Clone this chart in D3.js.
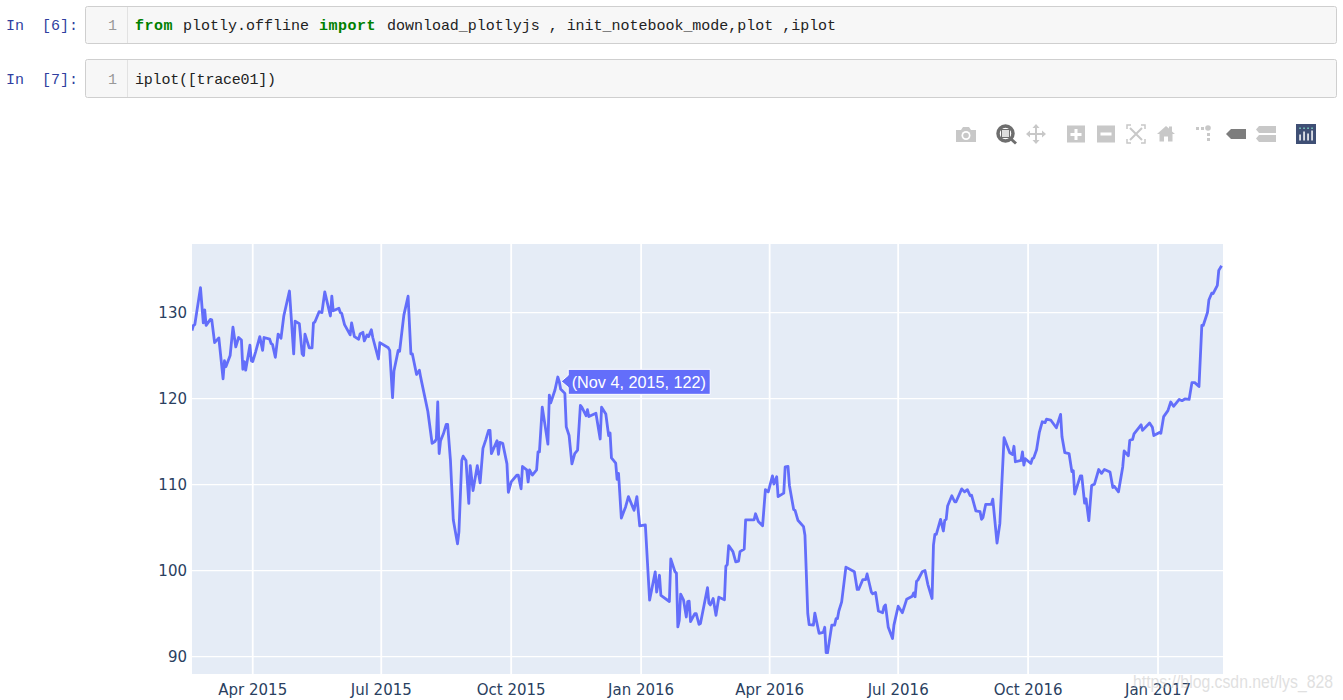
<!DOCTYPE html>
<html>
<head>
<meta charset="utf-8">
<style>
body { margin: 0; background: #fff; overflow: hidden; }
svg { display: block; }
.tick text { font-family: "DejaVu Sans", sans-serif; font-size: 15px; fill: #2a3f5f; }
.code { font-family: "Liberation Mono", monospace; font-size: 15px; white-space: pre; }
</style>
</head>
<body>
<svg></svg>
<script src="https://cdnjs.cloudflare.com/ajax/libs/d3/7.8.5/d3.min.js"></script>
<script>
// calendar days after startDate, one entry per visible vertex
var startDate = "2015-02-17";
var endDate = "2017-02-16";
var days = [
  0, 1, 2, 6, 8, 9, 10, 13, 14, 16,
  19, 22, 23, 24, 27, 29, 31, 33, 35, 36,
  37, 38, 41, 42, 43, 45, 48, 50, 51, 55,
  56, 57, 59, 61, 63, 65, 69, 72, 73, 76,
  78, 79, 80, 83, 85, 86, 87, 90, 92, 94,
  98, 99, 100, 104, 105, 106, 108, 112, 113, 115,
  118, 119, 121, 122, 124, 125, 127, 128, 132, 133,
  139, 140, 142, 143, 146, 147, 150, 153, 155, 156,
  159, 161, 162, 167, 170, 172, 173, 174, 175, 176,
  178, 180, 181, 183, 185, 188, 189, 191, 192, 194,
  196, 197, 199, 202, 204, 206, 208, 210, 211, 212,
  216, 217, 218, 220, 223, 224, 225, 226, 230, 231,
  233, 234, 237, 238, 239, 241, 244, 245, 246, 248,
  252, 253, 254, 257, 259, 260, 261, 264, 265, 267,
  269, 271, 273, 275, 276, 279, 280, 281, 286, 289,
  290, 293, 295, 296, 297, 300, 301, 302, 304, 307,
  309, 313, 315, 317, 321, 324, 328, 329, 331, 332,
  338, 339, 342, 343, 344, 345, 346, 348, 350, 351,
  352, 353, 356, 357, 359, 360, 365, 366, 367, 369,
  371, 373, 377, 378, 379, 380, 383, 385, 387, 388,
  391, 392, 398, 399, 401, 404, 406, 408, 411, 412,
  414, 415, 419, 420, 422, 423, 426, 427, 429, 433,
  434, 436, 437, 440, 441, 444, 447, 448, 449, 450,
  453, 455, 456, 457, 458, 460, 463, 469, 471, 472,
  475, 477, 478, 481, 482, 484, 486, 489, 490, 491,
  493, 496, 497, 500, 503, 506, 510, 511, 512, 513,
  514, 517, 519, 521, 524, 525, 526, 527, 530, 532,
  533, 534, 535, 538, 540, 541, 545, 547, 549, 551,
  552, 555, 558, 559, 560, 562, 566, 567, 570, 572,
  575, 579, 581, 582, 583, 587, 588, 589, 590, 594,
  595, 596, 598, 600, 602, 604, 605, 608, 612, 615,
  616, 618, 621, 623, 624, 625, 629, 630, 632, 633,
  635, 637, 639, 642, 644, 646, 650, 652, 653, 656,
  659, 660, 663, 664, 666, 667, 672, 673, 678, 680,
  681, 685, 686, 688, 691, 693, 695, 699, 701, 703,
  706, 708, 710, 713, 715, 716, 719, 720, 722, 723,
  726, 727, 729
];
var values = [
  127.9, 128.5, 128.6, 132.9, 128.8, 130.3, 128.5, 129.2, 129.15, 126.5,
  127.05, 122.3, 124.4, 123.7, 125, 128.3, 126, 127.1, 126.8, 123.4,
  124.3, 123.3, 126.2, 124.4, 124.3, 125.4, 127.2, 125.6, 127.1, 126.9,
  126.4, 126.3, 124.8, 127.5, 127, 129.6, 132.5, 125.2, 129, 128.7,
  125.2, 125, 127.5, 125.9, 125.9, 128.8, 128.9, 130.1, 130, 132.4,
  129.6, 131.9, 130.2, 130.5, 130, 129.9, 128.6, 127.4, 128.8, 127.2,
  126.9, 127.5, 127.7, 126.7, 127.4, 127.2, 128, 127.1, 124.6, 126.5,
  125.9, 125.6, 120.1, 123.2, 125.6, 125.5, 129.7, 131.9, 125.2, 125.2,
  122.8, 123.3, 122.4, 118.5, 114.8, 115, 115.3, 119.6, 113.6, 115.1,
  115.9, 117, 117, 112.8, 105.9, 103.1, 104.5, 112.8, 113.3, 112.8,
  107.8, 112.2, 109.3, 112.2, 110.2, 114.2, 115.2, 116.3, 116.3, 113.6,
  115.1, 113.5, 114.9, 114.8, 112.4, 109.1, 109.7, 110.3, 111.1, 111.1,
  109.5, 112.1, 111.7, 110.3, 111.7, 111.1, 111.7, 113.8, 113.8, 119,
  114.7, 120.4, 119.5, 121, 122.5, 122, 121.1, 120.6, 116.7, 115.7,
  112.4, 113.6, 114, 119.2, 119, 118, 118.7, 117.9, 118.3, 115.3,
  119, 118.2, 115.7, 116, 113.1, 112.5, 110.6, 111.3, 106.1, 107.4,
  108.6, 107, 108.6, 105.2, 105.3, 96.55, 99.85, 97.5, 99.45, 97.1,
  96.4, 101.35, 99.85, 99.7, 93.45, 94.2, 97.25, 96.6, 94.6, 96.4,
  96.45, 94.05, 95, 95, 93.75, 93.85, 98, 96.2, 96, 96.75,
  94.8, 96.9, 96.6, 100.5, 100.7, 102.9, 102.2, 101, 101.1, 102.2,
  102.5, 105.9, 105.9, 106.6, 105.7, 105.2, 109.4, 109.15, 111, 110.05,
  110.9, 108.6, 109, 112.05, 112.1, 109.9, 107.1, 107, 105.85, 105.1,
  104.1, 95, 93.7, 93.65, 95.05, 92.7, 92.8, 93.4, 90.45, 90.45,
  93.65, 93.65, 94.4, 94.4, 95.3, 96.35, 100.4, 99.85, 97.8, 97.8,
  98.95, 98.95, 99.6, 97.5, 97.3, 97.45, 95.3, 95.1, 95.8, 96,
  93.4, 92.1, 93.65, 95.85, 95.1, 96.65, 97, 97.4, 96.95, 98.75,
  98.9, 99.85, 100, 98.4, 96.75, 102.95, 104.2, 104.2, 105.95, 104.6,
  105.85, 105.95, 107.5, 108.7, 108, 108, 109.5, 109.15, 109.4, 108.7,
  108.75, 106.95, 106.85, 105.95, 106.15, 107.7, 107.7, 108.3, 103.2, 105.45,
  115.45, 113.7, 113.5, 114.45, 112.65, 112.8, 113.8, 112.25, 113, 112.45,
  113, 113.1, 114.05, 116.1, 117.3, 117.2, 117.6, 117.5, 116.6, 118.15,
  115.55, 113.7, 113.6, 111.5, 111.6, 108.9, 111, 111, 107.85, 108.35,
  105.8, 109.9, 110.05, 111.75, 111.3, 111.75, 111.45, 109.65, 109.8, 109.15,
  112.05, 113.9, 113.35, 115.15, 115.25, 115.9, 116.95, 116.3, 117.15, 116.65,
  115.7, 116.05, 115.95, 117.9, 118.6, 119.6, 119.1, 119.9, 119.75, 119.95,
  119.9, 121.85, 121.85, 121.4, 128.5, 128.5, 130, 131.45, 132.25, 132.2,
  133.15, 134.9, 135.45
];
var xTicks = ["2015-04-01", "2015-07-01", "2015-10-01", "2016-01-01", "2016-04-01", "2016-07-01", "2016-10-01", "2017-01-01"];
var yTicks = [90, 100, 110, 120, 130];
var hoverDay = 260;
var hoverValue = 122;
var hoverLabel = "(Nov 4, 2015, 122)";

var parseDate = d3.utcParse("%Y-%m-%d");
var start = parseDate(startDate);

var margin = {top: 244, right: 120, bottom: 26, left: 192};
var viewWidth = 1343;
var viewHeight = 700;
var width = viewWidth - margin.left - margin.right;
var height = viewHeight - margin.top - margin.bottom;

var root = d3.select("svg")
    .attr("width", viewWidth)
    .attr("height", viewHeight);

function drawCell(top, h, baseline, prompt, parts) {
    root.append("rect")
        .attr("x", 85.5).attr("y", top + 0.5)
        .attr("width", 1251).attr("height", h)
        .attr("rx", 2)
        .attr("fill", "#f7f7f7")
        .attr("stroke", "#cfcfcf");
    root.append("line")
        .attr("x1", 127.5).attr("x2", 127.5)
        .attr("y1", top + 1).attr("y2", top + h)
        .attr("stroke", "#e2e2e2");
    root.append("text").attr("class", "code")
        .attr("x", 6).attr("y", baseline)
        .attr("fill", "#303f9f")
        .text(prompt);
    root.append("text").attr("class", "code")
        .attr("x", 108).attr("y", baseline)
        .attr("fill", "#999")
        .text("1");
    parts.forEach(function(p) {
        root.append("text").attr("class", "code")
            .attr("x", p.x).attr("y", baseline)
            .attr("fill", p.color)
            .attr("font-weight", p.bold ? "bold" : "normal")
            .attr("letter-spacing", p.spacing || 0)
            .text(p.text);
    });
}

function drawToolbar() {
    var g = root.append("g");
    var light = "#c8c8c8";
    var dark = "#6e6e6e";

    // camera
    g.append("path").attr("fill", light)
        .attr("d", "M956 130h5l2-3h6l2 3h5v12h-20z");
    g.append("circle").attr("cx", 966).attr("cy", 135.5).attr("r", 4.5).attr("fill", "#fff");
    g.append("circle").attr("cx", 966).attr("cy", 135.5).attr("r", 2.8).attr("fill", light);

    // zoom box, the active one
    g.append("circle").attr("cx", 1005.5).attr("cy", 133.5).attr("r", 7.5)
        .attr("fill", "#fff").attr("stroke", dark).attr("stroke-width", 3.5);
    g.append("rect").attr("x", 1001.5).attr("y", 129.5).attr("width", 8).attr("height", 8).attr("fill", "#ddd").attr("stroke", dark);
    g.append("line").attr("x1", 1011).attr("y1", 139).attr("x2", 1016).attr("y2", 143.5)
        .attr("stroke", dark).attr("stroke-width", 3);

    // pan
    g.append("path").attr("fill", light)
        .attr("d", "M1036 124l3.5 4h-2.5v5h5v-2.5l4 3.5-4 3.5v-2.5h-5v5h2.5l-3.5 4-3.5-4h2.5v-5h-5v2.5l-4-3.5 4-3.5v2.5h5v-5h-2.5z");

    // zoom in, zoom out
    g.append("rect").attr("x", 1067).attr("y", 125.5).attr("width", 18).attr("height", 17).attr("fill", light);
    g.append("path").attr("fill", "#fff").attr("d", "M1074.5 129h3v4h4v3h-4v4h-3v-4h-4v-3h4z");
    g.append("rect").attr("x", 1097).attr("y", 125.5).attr("width", 18).attr("height", 17).attr("fill", light);
    g.append("rect").attr("x", 1100.5).attr("y", 132.5).attr("width", 11).attr("height", 3).attr("fill", "#fff");

    // autoscale
    g.append("path").attr("fill", "none").attr("stroke", light).attr("stroke-width", 1.5)
        .attr("d", "M1131 125h-4v4M1141 125h4v4M1145 139v4h-4M1131 143h-4v-4");
    g.append("path").attr("fill", "none").attr("stroke", light).attr("stroke-width", 2)
        .attr("d", "M1130 128l12 12M1142 128l-12 12");

    // reset
    g.append("path").attr("fill", light)
        .attr("d", "M1157 134l9-8 3 2.500v-2h3v5l3 2.500h-2.500v7.500h-4.500v-5h-4v5h-4.500v-7.500z");

    // spike lines
    g.append("circle").attr("cx", 1208).attr("cy", 128).attr("r", 2.8).attr("fill", light);
    g.append("rect").attr("x", 1196).attr("y", 127).attr("width", 3).attr("height", 3).attr("fill", light);
    g.append("rect").attr("x", 1201).attr("y", 127).attr("width", 3).attr("height", 3).attr("fill", light);
    g.append("rect").attr("x", 1207).attr("y", 133).attr("width", 3).attr("height", 3).attr("fill", light);
    g.append("rect").attr("x", 1207).attr("y", 138).attr("width", 3).attr("height", 3).attr("fill", light);

    // hover closest, hover compare
    g.append("path").attr("fill", "#7d7d7d").attr("d", "M1226 134l5-5h15v10h-15z");
    g.append("path").attr("fill", light).attr("d", "M1259 126h17v7h-17zM1256 129.500l3-3.500v7z");
    g.append("path").attr("fill", light).attr("d", "M1259 135h17v7h-17zM1256 138.500l3-3.500v7z");

    // plotly logo
    g.append("rect").attr("x", 1296).attr("y", 124).attr("width", 20).attr("height", 20).attr("fill", "#3f4f75");
    [1300, 1304, 1308, 1312].forEach(function(bx, i) {
        var tall = [6, 9, 7, 10][i];
        g.append("rect").attr("x", bx - 0.7).attr("y", 140.5 - tall).attr("width", 1.5).attr("height", tall).attr("fill", "#fff");
        g.append("rect").attr("x", bx - 0.7).attr("y", 127.5).attr("width", 1.5).attr("height", 1.5).attr("fill", "#7fd6c2");
    });
}

function drawLineplot() {
    var svg = root.append("g")
        .attr("transform", "translate(" + margin.left + "," + margin.top + ")");

    var x = d3.scaleUtc()
        .domain([start, parseDate(endDate)])
        .range([0, width]);
    var y = d3.scaleLinear()
        .domain([87.97, 137.97])
        .range([height, 0]);

    svg.append("rect")
        .attr("width", width)
        .attr("height", height)
        .attr("fill", "#e5ecf6");

    svg.append("g")
        .attr("transform", "translate(0," + height + ")")
        .call(d3.axisBottom(x)
            .tickValues(xTicks.map(parseDate))
            .tickFormat(d3.utcFormat("%b %Y"))
            .tickSize(-height)
            .tickPadding(10)
            .offset(0))
        .call(function(g) {
            g.select(".domain").remove();
            g.selectAll("line").attr("stroke", "#fff").attr("stroke-width", 1.8);
        });

    svg.append("g")
        .call(d3.axisLeft(y)
            .tickValues(yTicks)
            .tickSize(-width)
            .tickPadding(5)
            .offset(0))
        .call(function(g) {
            g.select(".domain").remove();
            g.selectAll("line").attr("stroke", "#fff").attr("stroke-width", 1.2);
            g.selectAll("text").attr("dy", "0.38em");
        });

    var points = days.map(function(d, i) { return {date: d3.utcDay.offset(start, d), value: values[i]}; });

    svg.append("clipPath").attr("id", "plot-clip")
        .append("rect").attr("width", width).attr("height", height);

    svg.append("path")
        .datum(points)
        .attr("clip-path", "url(#plot-clip)")
        .attr("fill", "none")
        .attr("stroke", "#636efa")
        .attr("stroke-width", 2.8)
        .attr("stroke-linejoin", "round")
        .attr("d", d3.line()
            .x(function(d) { return x(d.date); })
            .y(function(d) { return y(d.value); }));

    // hover label, pinned to the hovered point
    var hx = x(d3.utcDay.offset(start, hoverDay));
    var hy = y(hoverValue);
    var hover = svg.append("g").attr("transform", "translate(" + hx + "," + hy + ")");
    hover.append("path")
        .attr("d", "M2 0l7-6v-6h142v25h-142v-7z")
        .attr("fill", "#636efa")
        .attr("stroke", "#fff");
    hover.append("text")
        .attr("x", 12.5)
        .attr("y", 6.5)
        .attr("fill", "#fff")
        .style("font-family", "'Liberation Sans', Arial, sans-serif")
        .style("font-size", "16.2px")
        .text(hoverLabel);
}

drawCell(6, 37, 30, "In  [6]:", [
    {text: "from", x: 135, color: "#008000", bold: true, spacing: 0.5},
    {text: "plotly.offline", x: 183, color: "#222"},
    {text: "import", x: 319, color: "#008000", bold: true, spacing: 0.5},
    {text: "download_plotlyjs , init_notebook_mode,plot ,iplot", x: 387, color: "#222", spacing: -0.02}
]);
drawCell(59, 38, 84, "In  [7]:", [
    {text: "iplot([trace01])", x: 135, color: "#222", spacing: -0.2}
]);
drawToolbar();
drawLineplot();

root.append("text")
    .attr("x", 1133)
    .attr("y", 688)
    .attr("fill", "#bbb")
    .attr("opacity", 0.45)
    .attr("textLength", 200)
    .attr("lengthAdjust", "spacingAndGlyphs")
    .style("font-family", "'Liberation Sans', Arial, sans-serif")
    .style("font-size", "17.5px")
    .text("https://blog.csdn.net/lys_828");
</script>
</body>
</html>
